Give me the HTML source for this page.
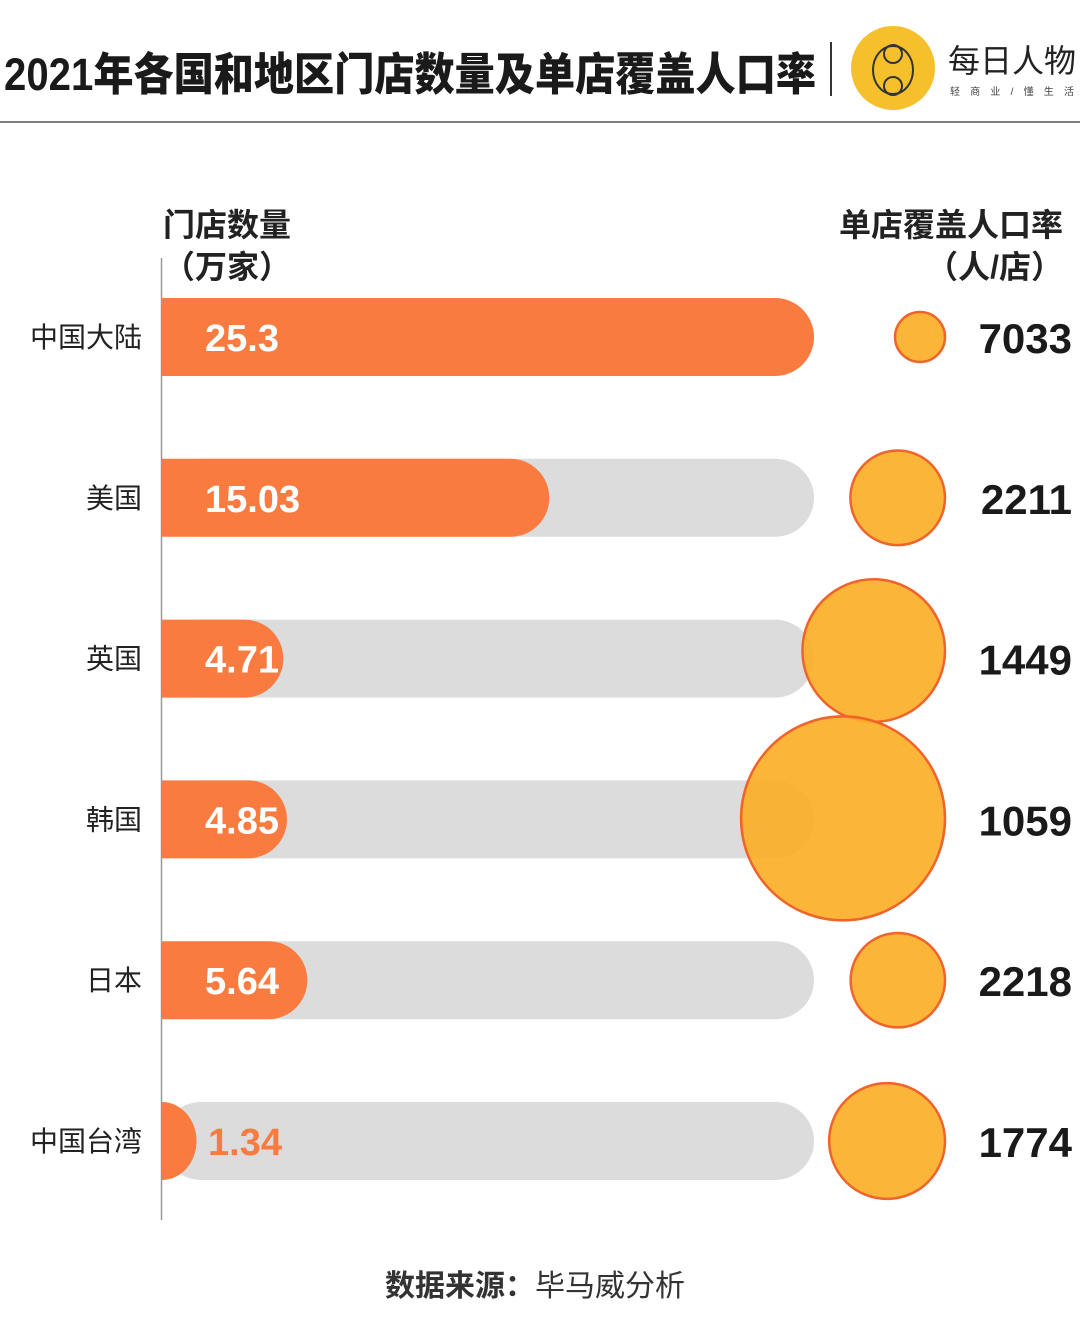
<!DOCTYPE html>
<html><head><meta charset="utf-8">
<style>
html,body{margin:0;padding:0;background:#fff;}
body{width:1080px;height:1331px;overflow:hidden;font-family:"Liberation Sans","Noto Sans CJK SC",sans-serif;}
</style></head>
<body>
<svg width="1080" height="1331" viewBox="0 0 1080 1331" xmlns="http://www.w3.org/2000/svg" font-family="Liberation Sans, Noto Sans CJK SC, sans-serif">
  <text x="4" y="90" font-size="45" font-weight="900" fill="#1a1a1a" textLength="812" lengthAdjust="spacingAndGlyphs">2021年各国和地区门店数量及单店覆盖人口率</text>
  <line x1="831" y1="42" x2="831" y2="96" stroke="#333" stroke-width="2"/>
  <g>
    <circle cx="893" cy="68" r="42" fill="#f6c02c"/>
    <ellipse cx="893" cy="70" rx="20" ry="24" fill="none" stroke="#333" stroke-width="2"/>
    <circle cx="893" cy="54" r="9" fill="none" stroke="#333" stroke-width="2"/>
    <circle cx="893" cy="86" r="9" fill="none" stroke="#333" stroke-width="2"/>
    <text x="948" y="72" font-size="32" fill="#222">每日人物</text>
    <text x="950" y="95" font-size="10" fill="#444" textLength="124" lengthAdjust="spacing">轻 商 业 / 懂 生 活</text>
  </g>
  <line x1="0" y1="122" x2="1080" y2="122" stroke="#555" stroke-width="1.5"/>

  <text x="163" y="236" font-size="32" font-weight="bold" fill="#222">门店数量</text>
  <text x="163" y="278" font-size="32" font-weight="bold" fill="#222">（万家）</text>
  <text x="1063" y="236" font-size="32" font-weight="bold" fill="#222" text-anchor="end">单店覆盖人口率</text>
  <text x="1063" y="278" font-size="32" font-weight="bold" fill="#222" text-anchor="end">（人/店）</text>

  <line x1="161.5" y1="258" x2="161.5" y2="1220" stroke="#999" stroke-width="1.5"/>
  <g id="rows"></g>

  <text x="535" y="1296" font-size="30" fill="#333" text-anchor="middle"><tspan font-weight="bold">数据来源：</tspan>毕马威分析</text>
</svg>
<script>
const categories = ["中国大陆","美国","英国","韩国","日本","中国台湾"];
const storeCounts = [25.3, 15.03, 4.71, 4.85, 5.64, 1.34];
const storeLabels = ["25.3","15.03","4.71","4.85","5.64","1.34"];
const coverage = [7033, 2211, 1449, 1059, 2218, 1774];
const coverageLabels = ["7033","2211","1449","1059","2218","1774"];

const NS = "http://www.w3.org/2000/svg";
const x0 = 162, maxW = 652, maxVal = 25.3;
const xScale = v => v / maxVal * maxW;
const rowY = i => 337 + i * 160.8;
const rScale = v => 20.2 + 2.818e6 * Math.pow(v, -1.5);
const rightEdge = 945;
const g = document.getElementById("rows");
function mk(tag, attrs){const e=document.createElementNS(NS,tag);for(const k in attrs)e.setAttribute(k,attrs[k]);return e;}

categories.forEach((c,i)=>{
  const cy = rowY(i), h = 78;
  const lab = mk("text",{x:142,y:cy+10,"font-size":28,fill:"#222","text-anchor":"end"});
  
  
  lab.textContent = c; g.appendChild(lab);

  const bg = mk("rect",{x:x0,y:cy-h/2,width:maxW,height:h,rx:39,fill:"#dcdcdc"});
  
  
  g.appendChild(bg);

  const w = xScale(storeCounts[i]);
  const bar = mk("path",{d:`M${x0},${cy-h/2} H${x0+Math.max(w-39,0)} A39,39 0 0 1 ${x0+Math.max(w-39,0)},${cy+h/2} H${x0} Z`,fill:"#f97b40"});
  if (w < 39) bar.setAttribute("d",`M${x0},${cy-h/2} A${w},39 0 0 1 ${x0},${cy+h/2} Z`);
  
  
  g.appendChild(bar);

  const vt = mk("text",{x:w<60?208:205,y:cy+14,"font-size":38,"font-weight":"bold",fill:w<60?"#f97b40":"#fff"});
  
  
  vt.textContent = storeLabels[i]; g.appendChild(vt);
});
categories.forEach((c,i)=>{
  const cy = rowY(i);
  const r = rScale(coverage[i]);
  const circ = mk("circle",{cx:rightEdge-r,cy:cy-(i==2?8:0)+(i==3?-1:0),r:r,fill:"#fbae24","fill-opacity":0.9,stroke:"#f0632a","stroke-width":2.5});
  
  
  g.appendChild(circ);
  const t = mk("text",{x:1072,y:cy+16,"font-size":42,"font-weight":"bold",fill:"#1a1a1a","text-anchor":"end"});
  
  
  t.textContent = coverageLabels[i]; g.appendChild(t);
});
</script>
</body></html>
